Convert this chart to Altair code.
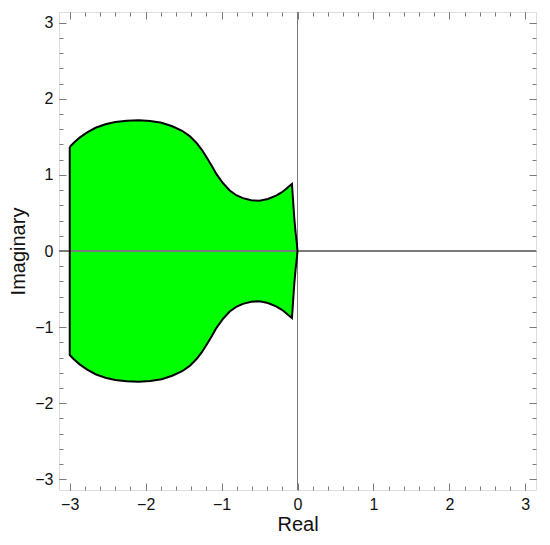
import altair as alt
import pandas as pd

# Boundary of the region (upper half, the region is symmetric about Im = 0)
re_top = [-3.0, -2.95, -2.87, -2.77, -2.66, -2.53, -2.40, -2.25, -2.09, -1.94,
          -1.79, -1.65, -1.52, -1.42, -1.33, -1.26, -1.20, -1.13, -1.067, -0.98,
          -0.893, -0.80, -0.719, -0.61, -0.50, -0.39, -0.282, -0.21, -0.152, -0.11,
          -0.073, -0.058, -0.043, -0.025, -0.01, 0.0]
im_top = [1.367, 1.42, 1.49, 1.56, 1.62, 1.665, 1.695, 1.712, 1.718, 1.71,
          1.685, 1.64, 1.58, 1.51, 1.42, 1.33, 1.235, 1.12, 1.01, 0.89,
          0.795, 0.73, 0.695, 0.668, 0.66, 0.683, 0.727, 0.77, 0.815, 0.85,
          0.88, 0.66, 0.44, 0.24, 0.11, 0.0]

major_ticks = [-3, -2, -1, 0, 1, 2, 3]
minor_ticks = [round(-3.0 + 0.2 * i, 1) for i in range(31)]
lim = 3.14159

area_df = pd.DataFrame({"re": re_top, "im": im_top, "im_neg": [-v for v in im_top]})

# closed outline: top left->right, bottom right->left, back to start
out_re = re_top + re_top[::-1][1:] + [re_top[0]]
out_im = im_top + [-v for v in im_top[::-1][1:]] + [im_top[0]]
outline_df = pd.DataFrame({"re": out_re, "im": out_im, "k": list(range(len(out_re)))})

xs = alt.Scale(domain=[-lim, lim], nice=False, zero=False)
ys = alt.Scale(domain=[-lim, lim], nice=False, zero=False)

FONT = "Liberation Sans"
TXT = "#111111"
GRAY = "#7a7a7a"

base_axis = dict(grid=False, domain=False, labelFlush=False, zindex=2)

x_lab = alt.Axis(orient="bottom", values=major_ticks, ticks=False, tickSize=0,
                 labelFontSize=16, labelFont=FONT, labelColor=TXT, labelPadding=6,
                 title="Real", titleFont=FONT, titleFontSize=20, titleFontWeight="normal",
                 titleColor=TXT, titlePadding=2, **base_axis)
y_lab = alt.Axis(orient="left", values=major_ticks, ticks=False, tickSize=0,
                 labelFontSize=16, labelFont=FONT, labelColor=TXT, labelPadding=6,
                 title="Imaginary", titleFont=FONT, titleFontSize=20, titleFontWeight="normal",
                 titleColor=TXT, titlePadding=6, **base_axis)


def tick_axis(orient, vals, size):
    return alt.Axis(orient=orient, values=vals, labels=False, ticks=True, tickSize=size,
                    offset=-size, tickColor=GRAY, tickWidth=1, title=None, **base_axis)


area = alt.Chart(area_df).mark_area(color="#00ff00", opacity=1).encode(
    x=alt.X("re:Q", scale=xs, axis=x_lab),
    y=alt.Y("im:Q", scale=ys, axis=y_lab),
    y2="im_neg:Q",
)

zero_x = alt.Chart(area_df).mark_rule(color=GRAY, strokeWidth=1).encode(
    x=alt.X(datum=0, scale=xs, axis=None)
)
zero_y = alt.Chart(area_df).mark_rule(color=GRAY, strokeWidth=1).encode(
    y=alt.Y(datum=0, scale=ys, axis=None)
)

outline = alt.Chart(outline_df).mark_line(color="black", strokeWidth=2).encode(
    x=alt.X("re:Q", scale=xs, axis=None),
    y=alt.Y("im:Q", scale=ys, axis=None),
    order="k:Q",
)


def tick_layer(xo, yo, vals, size):
    return alt.Chart(area_df).mark_point(opacity=0).encode(
        x=alt.X("re:Q", scale=xs, axis=tick_axis(xo, vals, size)),
        y=alt.Y("im:Q", scale=ys, axis=tick_axis(yo, vals, size)),
    )


layers = [
    area, zero_x, zero_y, outline,
    tick_layer("bottom", "left", minor_ticks, 4),
    tick_layer("bottom", "left", major_ticks, 7),
    tick_layer("top", "right", minor_ticks, 4),
    tick_layer("top", "right", major_ticks, 7),
]

chart = alt.layer(*layers).resolve_axis(x="independent", y="independent").properties(
    width=477, height=478,
    autosize=alt.AutoSizeParams(type="none"),
    padding={"left": 51, "top": 4, "right": 6, "bottom": 47},
).configure_view(stroke=GRAY, strokeWidth=1.2).configure(background="white")

chart.save("out.html", embed_options={"renderer": "svg", "actions": False})
